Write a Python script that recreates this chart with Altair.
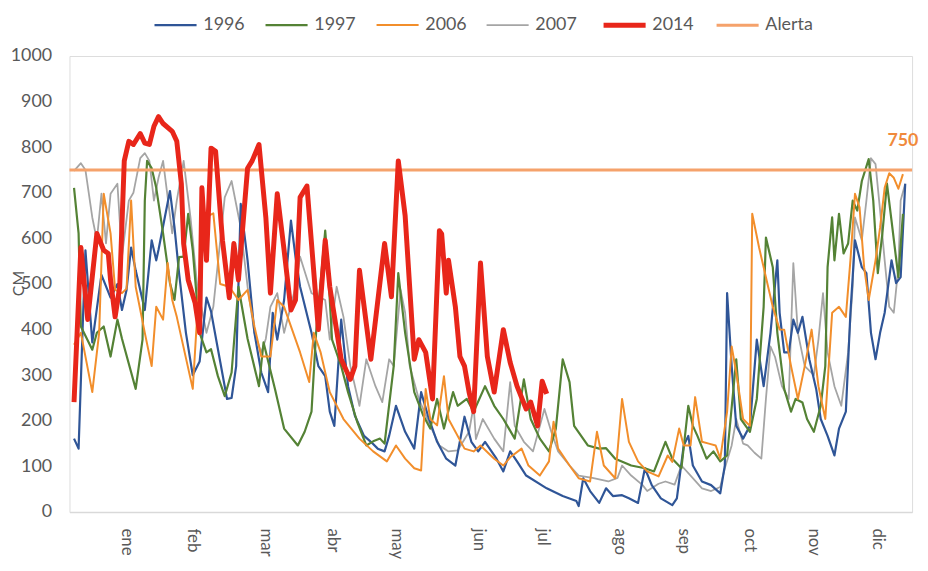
import altair as alt
import pandas as pd

# ---------------- data (day of year, level in cm) ----------------
SERIES = ["1996", "1997", "2006", "2007", "2014", "Alerta"]
COLORS = ["#2F5597", "#548235", "#F28E2B", "#A5A5A5", "#E8261A", "#F5A26B"]
WIDTHS = [2.2, 2.2, 2.0, 1.8, 5.0, 3.0]

MONTHS = ["ene", "feb", "mar", "abr", "may", "jun", "jul", "ago", "sep", "oct", "nov", "dic"]
MONTH_DAYS = [23, 52, 84, 113, 141, 177, 205, 239, 267, 296, 324, 352]

ALERT = 750
ALERT_LABEL_DAY = 363

D1996 = [0, 2, 4, 5, 8, 12, 16, 19, 21, 23, 25, 27, 31, 34, 36, 37, 42, 44, 46, 49,
         52, 55, 58, 60, 64, 67, 69, 71, 73, 76, 79, 82, 85, 87, 89, 92, 95, 97, 99, 104,
         107, 110, 112, 114, 117, 120, 123, 127, 130, 133, 136, 138, 141, 145, 149, 152, 155, 159, 163, 167,
         171, 174, 177, 180, 185, 188, 191, 194, 198, 207, 214, 220, 221, 223, 226, 230, 233, 236, 240, 243,
         247, 250, 253, 257, 262, 264, 267, 269, 271, 275, 279, 283, 285, 286, 288, 290, 293, 296, 299, 302,
         305, 308, 309, 311, 313, 315, 317, 319, 322, 325, 327, 330, 333, 335, 338, 340, 342, 345, 347, 349,
         351, 353, 355, 358, 360, 362, 364]
V1996 = [161, 139, 437, 574, 372, 520, 470, 500, 443, 487, 580, 530, 443, 596, 552, 575, 704, 624, 524, 393,
         300, 330, 470, 440, 330, 248, 250, 320, 676, 552, 393, 306, 263, 437, 378, 465, 639, 559, 494, 393,
         320, 298, 220, 189, 422, 276, 211, 167, 154, 139, 133, 167, 233, 176, 139, 263, 211, 154, 117, 102,
         209, 154, 133, 154, 117, 89, 133, 111, 80, 52, 35, 24, 13, 74, 46, 20, 52, 35, 37, 30,
         20, 96, 59, 30, 15, 30, 146, 167, 102, 67, 59, 41, 102, 480, 320, 189, 161, 189, 378, 276,
         393, 552, 437, 350, 350, 422, 393, 428, 335, 270, 204, 167, 124, 183, 220, 437, 596, 537, 524, 393,
         335, 393, 437, 552, 502, 515, 720]

D1997 = [0, 2, 3, 8, 10, 13, 16, 19, 21, 27, 30, 31, 32, 34, 36, 39, 42, 44, 46, 48,
         50, 52, 55, 58, 60, 63, 66, 69, 72, 76, 81, 83, 88, 92, 98, 101, 104, 106, 110, 111,
         113, 117, 120, 124, 128, 131, 134, 136, 140, 142, 145, 149, 153, 156, 159, 162, 166, 168, 172, 175,
         180, 184, 188, 193, 197, 200, 204, 208, 211, 214, 217, 219, 225, 230, 233, 237, 244, 250, 254, 259,
         262, 266, 269, 271, 273, 277, 280, 283, 286, 290, 292, 296, 299, 302, 303, 306, 308, 311, 314, 316,
         319, 321, 324, 327, 329, 330, 332, 333, 335, 337, 339, 341, 343, 345, 348, 350, 352, 354, 356, 358,
         361, 363]
V1997 = [711, 611, 407, 356, 393, 407, 341, 422, 380, 270, 378, 683, 770, 754, 711, 611, 502, 465, 559, 560,
         654, 574, 393, 350, 357, 298, 254, 306, 494, 380, 276, 372, 270, 183, 146, 176, 220, 393, 617, 552,
         378, 320, 263, 198, 146, 155, 161, 150, 320, 524, 393, 263, 211, 183, 248, 183, 263, 233, 248, 220,
         276, 233, 204, 161, 291, 204, 161, 133, 183, 335, 285, 189, 146, 139, 140, 117, 102, 96, 89, 154,
         117, 96, 233, 189, 167, 117, 133, 111, 124, 335, 204, 176, 248, 450, 602, 537, 393, 270, 220, 248,
         240, 204, 176, 233, 320, 537, 646, 552, 654, 567, 589, 683, 661, 726, 774, 683, 524, 611, 720, 639,
         515, 654]

D2006 = [0, 3, 8, 11, 13, 16, 18, 21, 23, 25, 27, 31, 34, 36, 39, 41, 43, 45, 52, 56,
         59, 61, 64, 68, 72, 76, 79, 82, 86, 89, 92, 95, 99, 103, 105, 108, 112, 118, 125, 131,
         137, 141, 145, 149, 152, 154, 156, 159, 162, 164, 171, 175, 178, 184, 188, 191, 196, 199, 204, 208,
         210, 212, 217, 221, 226, 229, 232, 237, 240, 243, 247, 251, 256, 260, 262, 265, 267, 270, 272, 275,
         278, 281, 283, 286, 288, 290, 293, 296, 297, 300, 303, 306, 309, 311, 314, 317, 320, 323, 326, 329,
         332, 335, 338, 340, 342, 344, 346, 348, 351, 353, 355, 357, 359, 361, 363]
V2006 = [367, 393, 263, 393, 698, 611, 487, 480, 490, 683, 494, 393, 320, 450, 422, 546, 465, 428, 270, 600,
         650, 655, 500, 494, 465, 487, 407, 341, 341, 465, 450, 407, 350, 285, 393, 350, 263, 204, 161, 133,
         111, 146, 117, 96, 91, 270, 204, 190, 298, 204, 139, 133, 146, 117, 102, 120, 139, 102, 80, 111,
         198, 139, 102, 74, 67, 176, 102, 74, 248, 154, 111, 89, 78, 124, 110, 183, 146, 146, 252, 154,
         150, 146, 117, 220, 363, 306, 204, 189, 654, 580, 515, 450, 400, 400, 320, 248, 320, 400, 276, 204,
         437, 450, 428, 552, 698, 668, 537, 465, 552, 624, 711, 743, 733, 709, 741]

D2007 = [0, 3, 5, 8, 10, 12, 14, 16, 19, 21, 24, 26, 29, 31, 33, 35, 37, 39, 43, 45,
         48, 51, 54, 58, 61, 66, 69, 73, 76, 79, 82, 84, 86, 89, 92, 97, 99, 104, 110, 112,
         115, 118, 121, 125, 128, 132, 135, 138, 140, 143, 145, 147, 151, 156, 160, 164, 168, 173, 175, 176,
         179, 184, 188, 191, 193, 197, 201, 206, 209, 212, 217, 221, 227, 234, 238, 240, 244, 249, 251, 256,
         259, 263, 266, 270, 275, 279, 283, 285, 288, 290, 293, 295, 298, 301, 303, 305, 307, 310, 313, 315,
         317, 320, 324, 326, 328, 330, 333, 336, 339, 341, 342, 345, 347, 349, 351, 353, 355, 357, 359, 361,
         362, 364]
V2007 = [748, 765, 750, 646, 596, 698, 589, 698, 720, 560, 683, 700, 776, 787, 770, 683, 733, 770, 611, 683,
         770, 646, 494, 393, 450, 690, 726, 624, 494, 393, 350, 380, 450, 480, 393, 494, 560, 480, 465, 378,
         494, 428, 320, 233, 335, 276, 241, 335, 320, 487, 437, 320, 248, 189, 146, 133, 135, 176, 233, 160,
         204, 161, 133, 285, 189, 154, 133, 226, 176, 133, 102, 80, 75, 67, 75, 102, 80, 59, 46, 62,
         67, 60, 102, 80, 52, 46, 55, 96, 146, 204, 150, 146, 130, 117, 248, 363, 340, 276, 248, 546,
         393, 320, 300, 378, 480, 350, 276, 233, 350, 494, 646, 596, 683, 776, 763, 661, 552, 450, 437, 537,
         683, 720]

D2014 = [0, 3, 6, 10, 13, 15, 16, 18, 20, 22, 24, 26, 29, 31, 33, 35, 37, 39, 43, 45,
         47, 48, 50, 53, 55, 56, 58, 60, 62, 65, 68, 70, 72, 76, 78, 81, 84, 86, 89, 92,
         95, 97, 99, 102, 107, 110, 112, 117, 121, 123, 125, 130, 136, 139, 142, 145, 149, 151, 154, 157,
         160, 161, 163, 164, 167, 169, 171, 173, 175, 178, 181, 184, 188, 191, 194, 198, 200, 203, 205, 207]
V2014 = [241, 580, 422, 611, 574, 567, 509, 428, 494, 770, 813, 806, 830, 809, 806, 846, 867, 852, 835, 813,
         720, 589, 509, 459, 393, 711, 552, 798, 791, 596, 470, 589, 509, 754, 770, 806, 646, 480, 698, 574,
         443, 465, 690, 715, 400, 596, 494, 335, 291, 320, 530, 335, 589, 472, 770, 650, 335, 378, 350, 248,
         617, 610, 480, 552, 450, 341, 320, 263, 220, 546, 341, 263, 400, 328, 276, 226, 241, 189, 287, 259]

# ---------------- tables ----------------
def table(name, days, vals):
    return pd.DataFrame({"dia": days, "cm": vals, "serie": name})

others = pd.concat([table("2007", D2007, V2007), table("1996", D1996, V1996),
                    table("1997", D1997, V1997), table("2006", D2006, V2006)])
red = table("2014", D2014, V2014)
alert = pd.DataFrame({"dia": [ALERT_LABEL_DAY], "cm": [ALERT], "serie": ["Alerta"], "txt": [str(ALERT)]})

TXT = "#595959"
FONT = "Lato"

label_expr = "[" + ",".join("'%s'" % m for m in MONTHS) + "][indexof([" + \
    ",".join(str(d) for d in MONTH_DAYS) + "], datum.value)]"

x = alt.X("dia:Q", scale=alt.Scale(domain=[-2, 367], nice=False, zero=False),
          axis=alt.Axis(values=MONTH_DAYS, labelExpr=label_expr, labelAngle=90, title=None,
                        grid=False, ticks=False, tickSize=0, domainColor="#D9D9D9", domainWidth=1.5,
                        labelFontSize=17, labelColor=TXT, labelFont=FONT, labelPadding=16,
                        labelAlign="left", labelBaseline="middle"))
y = alt.Y("cm:Q", scale=alt.Scale(domain=[0, 1000], nice=False),
          axis=alt.Axis(values=list(range(0, 1001, 100)), format="d", title="CM", grid=False,
                        ticks=False, tickSize=0, domain=False, labelFontSize=18, labelColor=TXT,
                        labelFont=FONT, labelPadding=18, titleFontSize=16, titleFontWeight="normal",
                        titleColor=TXT, titleFont=FONT, titleAngle=-90, titleX=-43, titleY=229))

legend = alt.Legend(orient="none", legendX=83, legendY=-55, direction="horizontal", columns=6,
                    symbolType="stroke", symbolSize=1800, labelFontSize=18, labelColor=TXT,
                    labelFont=FONT, columnPadding=16, labelOffset=4, title=None)
color = alt.Color("serie:N", scale=alt.Scale(domain=SERIES, range=COLORS), legend=legend, title=None)
width = alt.StrokeWidth("serie:N", scale=alt.Scale(type="ordinal", domain=SERIES, range=WIDTHS),
                        legend=legend, title=None)

lines_other = alt.Chart(others).mark_line(strokeJoin="round").encode(
    x=x, y=y, color=color, strokeWidth=width, detail="serie:N")
rule = alt.Chart(alert).mark_rule().encode(y=y, color=color, strokeWidth=width)
lines_red = alt.Chart(red).mark_line(strokeJoin="round").encode(
    x=x, y=y, color=color, strokeWidth=width)
label = alt.Chart(alert).mark_text(dy=-29, align="center", fontWeight="bold", fontSize=18,
                                   font=FONT, color="#F08A3C").encode(x=x, y=y, text="txt:N")

chart = alt.layer(lines_other, rule, lines_red, label).properties(
    width=850, height=460,
    padding={"left": 62, "top": 46, "right": 8, "bottom": 52},
    autosize=alt.AutoSizeParams(type="none"),
).configure_view(stroke=None).configure(font=FONT, background="white")

chart.save("out.html", embed_options={"renderer": "svg", "actions": False})
